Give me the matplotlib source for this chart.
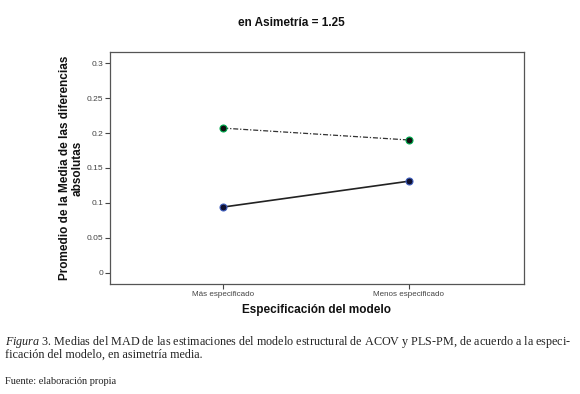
import matplotlib
matplotlib.use("Agg")
import matplotlib.pyplot as plt

plt.rcParams["font.family"] = ["Liberation Sans", "DejaVu Sans"]
plt.rcParams["mathtext.fontset"] = "custom"
plt.rcParams["mathtext.it"] = "Liberation Serif:italic"
plt.rcParams["mathtext.rm"] = "Liberation Serif"

categories = ["Más especificado", "Menos especificado"]
acov = [0.207, 0.190]
plspm = [0.094, 0.131]
yticks = [0, 0.05, 0.1, 0.15, 0.2, 0.25, 0.3]
ytick_labels = ["0", "0.05", "0.1", "0.15", "0.2", "0.25", "0.3"]

W, H = 580, 394
fig = plt.figure(figsize=(W / 100, H / 100), dpi=100)
fig.patch.set_facecolor("white")

left, right, top, bottom = 110, 524, 52, 284
ax = fig.add_axes([left / W, 1 - bottom / H, (right - left) / W, (bottom - top) / H])

x = list(range(len(categories)))
ax.plot(x, acov, linestyle=(0, (4, 1.5, 1, 1.5)), color="#333333", linewidth=0.9,
        marker="o", markersize=5, markerfacecolor="#101010",
        markeredgecolor="#00b050", markeredgewidth=0.8, zorder=3)
ax.plot(x, plspm, linestyle="-", color="#222222", linewidth=1.2,
        marker="o", markersize=5, markerfacecolor="#101030",
        markeredgecolor="#4060c0", markeredgewidth=0.8, zorder=3)

ax.set_xlim(-0.61, 1.62)
ax.set_ylim(-0.0162, 0.316)
ax.set_xticks(x)
ax.set_xticklabels(categories, fontsize=5.8, color="#444444")
ax.set_yticks(yticks)
ax.set_yticklabels(ytick_labels, fontsize=6, color="#444444")
ax.tick_params(direction="out", length=3.5, width=0.8, color="#444444", pad=1.5)
for s in ax.spines.values():
    s.set_color("#555555")
    s.set_linewidth(0.9)

ax.set_xlabel("Especificación del modelo", fontsize=8.5, fontweight="bold",
              color="#111111", labelpad=4)
ax.set_ylabel("Promedio de la Media de las diferencias\nabsolutas", fontsize=8.5,
              fontweight="bold", color="#111111", linespacing=1.1, va="center")
ax.yaxis.set_label_coords((71 - left) / (right - left), 0.5)

fig.text(291 / W, 1 - 23 / H, "en Asimetría = 1.25", ha="center", va="center",
         fontsize=8.5, fontweight="bold", color="#111111")

serif = "Liberation Serif"
fig.text(5 / W, 1 - 342 / H,
         r"$\it{Figura}$ 3. Medias del MAD de las estimaciones del modelo estructural de ACOV y PLS-PM, de acuerdo a la especi-",
         fontsize=8.7, family=serif, va="center", color="#222222")
fig.text(5 / W, 1 - 355 / H, "ficación del modelo, en asimetría media.",
         fontsize=8.7, family=serif, va="center", color="#222222")
fig.text(5 / W, 1 - 381 / H, "Fuente: elaboración propia",
         fontsize=7.5, family=serif, va="center", color="#222222")

fig.savefig("out.png", dpi=100, facecolor="white")
